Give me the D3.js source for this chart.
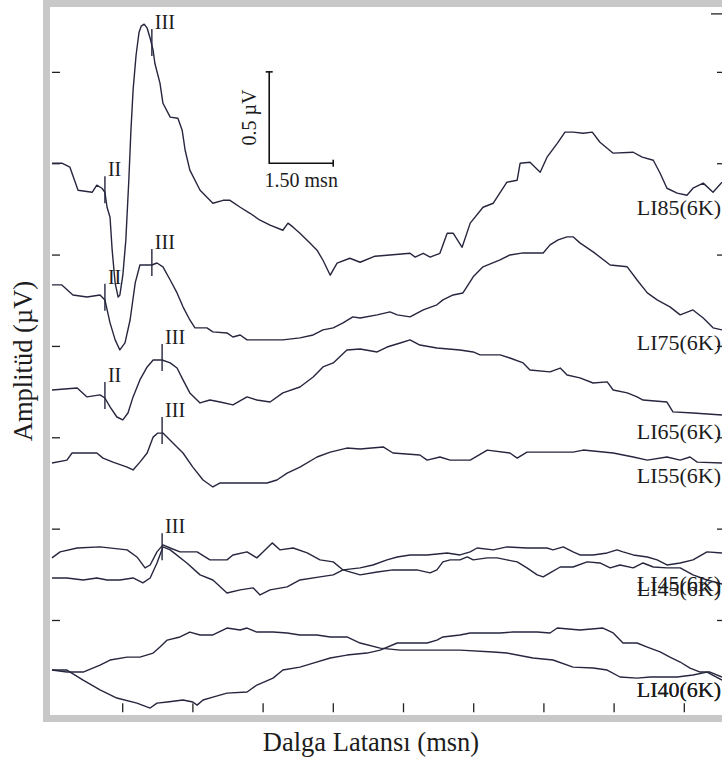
<!DOCTYPE html>
<html>
<head>
<meta charset="utf-8">
<script src="https://cdn.jsdelivr.net/npm/d3@7"></script>
<style>
  body { margin: 0; background: #fff; }
  svg { display: block; }
  text { font-family: "Liberation Serif", "Times New Roman", serif; fill: #1c1c1c; }
</style>
</head>
<body>
<svg id="chart" width="722" height="767"></svg>
<script>
// ABR recordings, 6 kHz tone burst, at decreasing stimulus levels.
// Each trace: [latency (ms), amplitude (µV) relative to its own baseline]
const li85 = [[0,0],[0.23,0],[0.42,-0.022],[0.61,-0.148],[0.94,-0.159],[1.05,-0.12],[1.17,-0.137],[1.24,-0.159],[1.29,-0.241],[1.36,-0.296],[1.41,-0.476],[1.48,-0.657],[1.55,-0.733],[1.59,-0.722],[1.66,-0.613],[1.73,-0.421],[1.80,-0.093],[1.85,0.181],[1.90,0.400],[1.97,0.591],[2.04,0.717],[2.09,0.750],[2.16,0.761],[2.23,0.739],[2.30,0.684],[2.37,0.618],[2.41,0.547],[2.53,0.438],[2.60,0.328],[2.77,0.252],[2.95,0.246],[3.05,0.181],[3.12,0.071],[3.23,-0.038],[3.47,-0.148],[3.77,-0.219],[4.01,-0.203],[4.17,-0.203],[4.41,-0.241],[4.64,-0.274],[4.875,-0.312],[5.11,-0.339],[5.41,-0.367],[5.53,-0.328],[5.65,-0.35],[5.81,-0.383],[6.05,-0.438],[6.21,-0.476],[6.35,-0.531],[6.52,-0.613],[6.68,-0.547],[6.98,-0.52],[7.22,-0.542],[7.57,-0.509],[7.85,-0.504],[8.39,-0.493],[8.51,-0.514],[8.70,-0.493],[8.86,-0.514],[9.09,-0.493],[9.26,-0.383],[9.40,-0.383],[9.61,-0.46],[9.80,-0.328],[10.10,-0.241],[10.34,-0.219],[10.66,-0.104],[10.90,-0.093],[10.97,0],[11.20,0.005],[11.44,-0.049],[11.60,0.033],[11.84,0.109],[12.02,0.170],[12.21,0.170],[12.45,0.164],[12.66,0.170],[12.84,0.115],[13.15,0.055],[13.62,0.060],[13.83,0.033],[14.09,0.016],[14.25,-0.055],[14.41,-0.137],[14.65,-0.164],[14.88,-0.175],[15.02,-0.137],[15.26,-0.109],[15.49,-0.159],[15.70,-0.104]];

const li75 = [[0,0],[0.23,0],[0.49,-0.055],[0.82,-0.066],[1.125,-0.055],[1.24,-0.082],[1.36,-0.208],[1.48,-0.301],[1.59,-0.356],[1.71,-0.317],[1.83,-0.192],[1.95,0.011],[2.06,0.109],[2.34,0.109],[2.46,0.120],[2.60,0.099],[2.77,0.027],[2.93,-0.044],[3.07,-0.120],[3.23,-0.192],[3.35,-0.235],[3.63,-0.235],[3.77,-0.257],[4.10,-0.263],[4.24,-0.285],[4.41,-0.274],[4.57,-0.301],[5.41,-0.301],[5.81,-0.290],[6.12,-0.274],[6.35,-0.246],[6.59,-0.235],[6.82,-0.208],[7.05,-0.175],[7.22,-0.181],[7.62,-0.164],[7.92,-0.148],[8.09,-0.164],[8.39,-0.175],[8.70,-0.137],[9.02,-0.109],[9.16,-0.082],[9.40,-0.055],[9.63,-0.044],[9.87,0.044],[10.10,0.099],[10.50,0.137],[10.73,0.164],[11.04,0.175],[11.51,0.175],[11.67,0.219],[11.86,0.246],[12.07,0.263],[12.21,0.263],[12.37,0.230],[12.68,0.181],[13.08,0.109],[13.48,0.099],[13.71,0.027],[13.95,-0.044],[14.18,-0.082],[14.48,-0.120],[14.72,-0.164],[15.02,-0.137],[15.26,-0.181],[15.49,-0.235],[15.70,-0.246]];

const li65 = [[0,0],[0.59,0.011],[0.82,-0.038],[1.125,-0.027],[1.24,-0.044],[1.36,-0.093],[1.52,-0.148],[1.66,-0.164],[1.78,-0.126],[1.90,-0.038],[2.06,0.055],[2.23,0.126],[2.37,0.164],[2.58,0.164],[2.77,0.148],[2.93,0.120],[3.07,0.055],[3.23,-0.016],[3.47,-0.071],[3.70,-0.055],[3.94,-0.066],[4.24,-0.082],[4.57,-0.038],[4.80,-0.055],[5.11,-0.066],[5.41,-0.016],[5.81,0.016],[6.12,0.071],[6.35,0.126],[6.59,0.148],[6.91,0.219],[7.22,0.224],[7.62,0.208],[7.85,0.235],[8.16,0.257],[8.39,0.274],[8.62,0.246],[9.02,0.230],[9.56,0.219],[9.87,0.208],[10.03,0.192],[10.50,0.192],[10.73,0.175],[11.04,0.148],[11.20,0.109],[11.67,0.099],[11.91,0.120],[12.07,0.082],[12.37,0.066],[12.68,0.038],[13.01,0.044],[13.15,0],[13.48,-0.016],[13.71,-0.038],[13.85,-0.055],[14.41,-0.066],[14.55,-0.120],[15.02,-0.126],[15.70,-0.137]];

const li55 = [[0,0],[0.35,0.016],[0.47,0.055],[1.05,0.055],[1.195,0.027],[1.43,0.005],[1.76,-0.022],[1.90,-0.038],[2.06,0.005],[2.23,0.055],[2.37,0.142],[2.48,0.164],[2.60,0.164],[2.84,0.109],[3.07,0.055],[3.30,-0.022],[3.54,-0.093],[3.77,-0.131],[3.94,-0.109],[5.04,-0.109],[5.27,-0.093],[5.51,-0.055],[5.81,-0.022],[6.21,0.033],[6.52,0.060],[6.91,0.082],[7.22,0.077],[7.76,0.088],[7.99,0.055],[8.62,0.044],[8.79,0.016],[9.09,0.033],[9.33,0.016],[9.80,0.016],[10.20,0.071],[10.73,0.055],[10.90,0.027],[11.13,0.060],[12.21,0.060],[12.45,0.071],[12.68,0.066],[13.15,0.055],[13.62,0.033],[13.95,0.016],[14.41,0.033],[14.72,0.016],[14.95,0.033],[15.12,0.005],[15.70,0]];

const li45a = [[0,0.055],[0.19,0.088],[0.59,0.109],[1.125,0.115],[1.76,0.099],[1.99,0.060],[2.18,0],[2.30,0.016],[2.46,0.088],[2.60,0.126],[2.77,0.109],[3.00,0.088],[3.40,0.088],[3.70,0.044],[4.10,0.044],[4.24,0.071],[4.57,0.088],[4.80,0.055],[4.95,0.088],[5.16,0.137],[5.34,0.099],[5.65,0.109],[5.98,0.082],[6.28,0.044],[6.59,0.033],[6.82,-0.011],[7.22,-0.038],[7.62,-0.022],[7.99,-0.011],[8.55,-0.011],[8.86,-0.027],[9.02,-0.011],[9.16,0.033],[9.33,0.044],[9.56,0.044],[9.73,0.060],[9.87,0.044],[10.20,0.055],[10.43,0.055],[10.66,0.044],[10.90,0.033],[11.13,0],[11.37,-0.038],[11.51,-0.049],[11.67,-0.027],[11.91,0.005],[12.21,0.005],[12.54,0.033],[12.84,0.027],[13.08,0],[13.31,0.016],[13.62,0],[13.85,0.027],[14.09,0.005],[14.41,0],[14.72,0],[15.02,-0.038],[15.35,-0.066],[15.70,-0.088]];

const li45b = [[0,-0.055],[0.35,-0.055],[0.73,-0.066],[1.05,-0.055],[1.29,-0.066],[1.59,-0.066],[1.90,-0.055],[2.13,-0.082],[2.30,-0.055],[2.46,0.027],[2.60,0.115],[2.77,0.099],[3.16,0.027],[3.47,-0.038],[3.77,-0.066],[4.10,-0.137],[4.41,-0.120],[4.71,-0.109],[4.875,-0.148],[5.11,-0.120],[5.51,-0.104],[5.81,-0.066],[6.28,-0.049],[6.59,-0.038],[6.82,-0.011],[7.22,0],[7.52,0.016],[7.85,0.044],[8.09,0.060],[8.39,0.071],[8.79,0.071],[9.26,0.082],[9.56,0.071],[9.80,0.088],[9.96,0.109],[10.34,0.099],[10.66,0.115],[11.13,0.109],[11.60,0.109],[11.74,0.099],[11.98,0.115],[12.21,0.088],[12.37,0.071],[12.68,0.071],[13.01,0.082],[13.24,0.099],[13.38,0.088],[13.62,0.071],[13.95,0.060],[14.18,0.044],[14.41,0.016],[14.72,0.027],[15.02,0.044],[15.35,0.088],[15.70,0.082]];

const li40a = [[0,0],[0.35,-0.011],[0.73,-0.011],[1.125,0.027],[1.36,0.055],[1.76,0.071],[2.06,0.071],[2.37,0.093],[2.53,0.126],[2.70,0.164],[3.00,0.181],[3.23,0.208],[3.47,0.192],[3.77,0.192],[4.10,0.230],[4.41,0.219],[4.57,0.230],[4.80,0.208],[5.18,0.208],[5.51,0.203],[5.81,0.192],[6.21,0.192],[6.52,0.181],[6.91,0.181],[7.22,0.148],[7.69,0.120],[8.16,0.109],[8.86,0.109],[9.56,0.109],[10.34,0.099],[10.66,0.093],[11.27,0.066],[11.74,0.055],[12.21,0.016],[12.68,0.011],[13.01,0],[13.31,-0.038],[13.71,-0.044],[14.02,-0.038],[14.65,-0.038],[15.02,-0.027],[15.35,-0.011],[15.70,-0.055]];

const li40b = [[0,0],[0.35,0],[0.73,-0.055],[1.125,-0.109],[1.52,-0.153],[1.99,-0.181],[2.30,-0.208],[2.46,-0.181],[2.70,-0.175],[3.07,-0.164],[3.30,-0.175],[3.40,-0.192],[3.54,-0.164],[3.77,-0.148],[4.10,-0.126],[4.57,-0.120],[4.80,-0.082],[5.18,-0.044],[5.41,0],[5.81,0.016],[6.12,0.038],[6.52,0.066],[6.91,0.082],[7.38,0.093],[7.69,0.109],[8.09,0.148],[8.79,0.148],[9.02,0.164],[9.16,0.181],[9.56,0.192],[9.80,0.203],[10.50,0.203],[10.80,0.208],[11.37,0.208],[11.67,0.203],[11.84,0.230],[12.37,0.219],[12.91,0.230],[13.15,0.203],[13.38,0.148],[13.71,0.148],[13.95,0.126],[14.25,0.099],[14.48,0.071],[14.72,0.044],[14.95,0.011],[15.19,-0.011],[15.42,-0.011],[15.70,-0.038]];

const traceNames = ["LI85(6K)", "LI75(6K)", "LI65(6K)", "LI55(6K)", "LI45(6K)", "LI45(6K)", "LI40(6K)", "LI40(6K)"];
const traceData = [li85, li75, li65, li55, li45a, li45b, li40a, li40b];
// display offset of each trace's baseline (µV)
const traceOffsets = [2.5, 1.834, 1.259, 0.859, 0.285, 0.285, -0.274, -0.274];

// marked ABR waves: trace index, wave name, latency (ms)
const waveTraces = [0, 0, 1, 1, 2, 2, 3, 5];
const waveNames = ["II", "III", "II", "III", "II", "III", "III", "III"];
const waveLatencies = [1.24, 2.34, 1.24, 2.34, 1.24, 2.58, 2.58, 2.58];

// calibration bar
const scaleBarMs = 1.5;
const scaleBarUV = 0.5;
const scaleBarText = ["1.50 msn", "0.5 µV"];

const yTickValues = [0, 0.5, 1, 1.5, 2, 2.5, 3];
const xTickStep = 1.645;
const xTickCount = 9;

// ---------- layout ----------
const W = 722, H = 767;
const svg = d3.select("#chart");

const x = d3.scaleLinear().domain([0, 15.7]).range([52, 722]);
const y = d3.scaleLinear().domain([-0.52, 3.355]).range([715, 7]);

// label level (µV) for each trace name, at the right edge
const labelLevels = [2.255, 1.516, 1.029, 0.788, 0.195, 0.168, -0.383, -0.383];

// frame
svg.append("rect")
  .attr("x", 46.5).attr("y", 3.5)
  .attr("width", 740).attr("height", 715)
  .attr("fill", "none").attr("stroke", "#c8c8c8").attr("stroke-width", 7);

// small ticks along the left and right edges
svg.append("g").attr("transform", `translate(${x(0)},0)`)
  .call(d3.axisRight(y).tickValues(yTickValues).tickSize(8).tickFormat(""))
  .call(g => g.select(".domain").remove())
  .call(g => g.selectAll("line").attr("stroke", "#222").attr("stroke-width", 1.3));

svg.append("g").attr("transform", `translate(${x(15.7)},0)`)
  .call(d3.axisLeft(y).tickValues(yTickValues.concat([3.32])).tickSize(5).tickFormat(""))
  .call(g => g.select(".domain").remove())
  .call(g => g.selectAll("line").attr("stroke", "#222").attr("stroke-width", 1.3))
  .call(g => g.selectAll(".tick").filter(d => d === 3.32).select("line").attr("x2", -11));

// latency ticks along the bottom
svg.append("g").attr("transform", `translate(0,${y(-0.505)})`)
  .call(d3.axisTop(x).tickValues(d3.range(1, xTickCount + 1).map(k => k * xTickStep)).tickSize(9).tickFormat(""))
  .call(g => g.select(".domain").remove())
  .call(g => g.selectAll("line").attr("stroke", "#222").attr("stroke-width", 1.3));

// traces
const line = d3.line();
const traces = svg.append("g").attr("fill", "none").attr("stroke", "#26263f")
  .attr("stroke-width", 1.4).attr("stroke-linejoin", "round");
traceData.forEach((pts, i) => {
  traces.append("path")
    .attr("d", line(pts.map(p => [x(p[0]), y(p[1] + traceOffsets[i])])));
});

// value of a trace at a given latency
const bis = d3.bisector(p => p[0]).left;
function valueAt(pts, t) {
  const j = Math.max(1, Math.min(pts.length - 1, bis(pts, t)));
  const a = pts[j - 1], b = pts[j];
  const f = (t - a[0]) / (b[0] - a[0]);
  return a[1] + f * (b[1] - a[1]);
}

// wave markers and their labels
const marks = svg.append("g");
waveNames.forEach((name, k) => {
  const ti = waveTraces[k];
  const t = waveLatencies[k];
  const v = valueAt(traceData[ti], t) + traceOffsets[ti];
  const top = y(v + 0.088), bottom = y(v - 0.06);
  marks.append("line")
    .attr("x1", x(t)).attr("x2", x(t))
    .attr("y1", top).attr("y2", bottom)
    .attr("stroke", "#26263f").attr("stroke-width", 1.4);
  marks.append("text")
    .attr("x", x(t) + 3).attr("y", top)
    .attr("font-size", 20)
    .text(name);
});

// trace names
traceNames.forEach((name, i) => {
  svg.append("text")
    .attr("x", 721).attr("y", y(labelLevels[i]) + 7)
    .attr("text-anchor", "end")
    .attr("font-size", 22)
    .text(name);
});

// calibration bar
const cx = 5.09, cv = 2.5;
const bar = svg.append("g").attr("stroke", "#111").attr("stroke-width", 1.6).attr("fill", "none");
bar.append("path").attr("d", d3.line()([
  [x(cx), y(cv + scaleBarUV)], [x(cx), y(cv)], [x(cx + scaleBarMs), y(cv)]
]));
bar.append("line")
  .attr("x1", x(cx) - 3.5).attr("x2", x(cx) + 3.5)
  .attr("y1", y(cv + scaleBarUV)).attr("y2", y(cv + scaleBarUV));
bar.append("line")
  .attr("x1", x(cx + scaleBarMs)).attr("x2", x(cx + scaleBarMs))
  .attr("y1", y(cv) - 3.5).attr("y2", y(cv) + 3.5);

svg.append("text")
  .attr("x", x(cx + scaleBarMs / 2)).attr("y", y(cv) + 24)
  .attr("text-anchor", "middle").attr("font-size", 20)
  .text(scaleBarText[0]);
svg.append("text")
  .attr("transform", `translate(${x(cx) - 13},${y(cv + scaleBarUV / 2)}) rotate(-90)`)
  .attr("text-anchor", "middle").attr("font-size", 20)
  .text(scaleBarText[1]);

// axis titles
svg.append("text")
  .attr("x", 371).attr("y", 751)
  .attr("text-anchor", "middle").attr("font-size", 26.5)
  .text("Dalga Latansı (msn)");
svg.append("text")
  .attr("transform", "translate(32,361) rotate(-90)")
  .attr("text-anchor", "middle").attr("font-size", 26.5)
  .text("Amplitüd (µV)");
</script>
</body>
</html>
